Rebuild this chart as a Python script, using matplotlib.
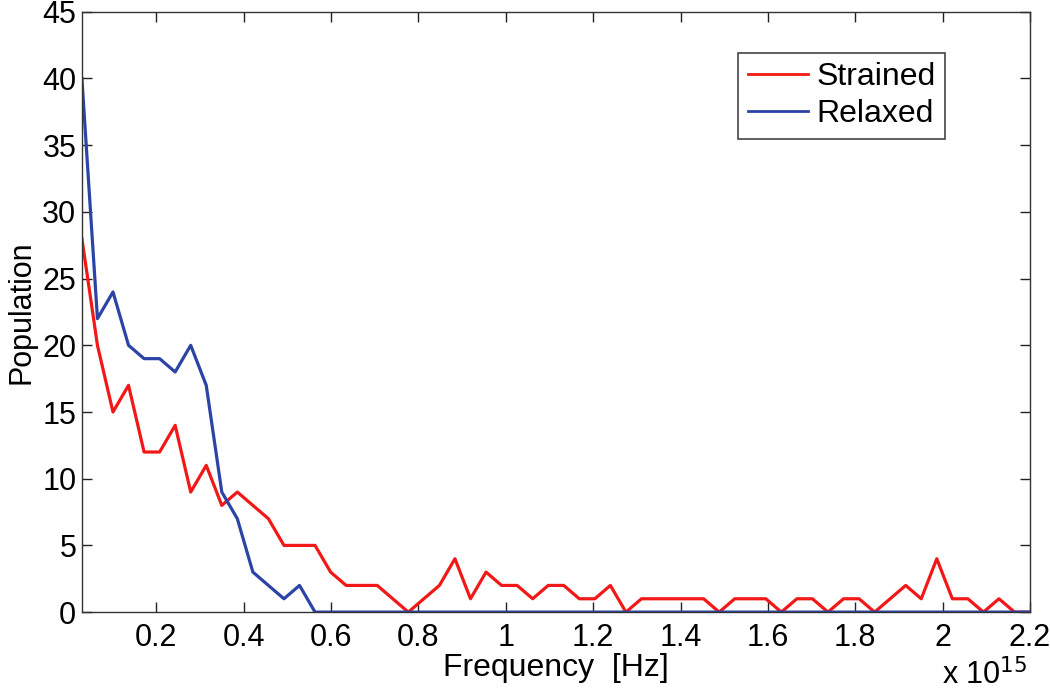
import numpy as np
import matplotlib
matplotlib.use("Agg")
import matplotlib.pyplot as plt

# histogram values (62 bins, x in units of 1e15 Hz)
n_bins = 62
freq_min, freq_max = 0.03, 2.2
strained = [28, 20, 15, 17, 12, 12, 14, 9, 11, 8, 9, 8, 7, 5, 5, 5, 3, 2, 2, 2,
            1, 0, 1, 2, 4, 1, 3, 2, 2, 1, 2, 2, 1, 1, 2, 0, 1, 1, 1, 1,
            1, 0, 1, 1, 1, 0, 1, 1, 0, 1, 1, 0, 1, 2, 1, 4, 1, 1, 0, 1,
            0, 0]
relaxed = [40, 22, 24, 20, 19, 19, 18, 20, 17, 9, 7, 3, 2, 1, 2, 0] + [0] * 46
x_ticks = [0.2, 0.4, 0.6, 0.8, 1.0, 1.2, 1.4, 1.6, 1.8, 2.0, 2.2]
x_ticklabels = ["0.2", "0.4", "0.6", "0.8", "1", "1.2", "1.4", "1.6", "1.8", "2", "2.2"]
y_ticks = [0, 5, 10, 15, 20, 25, 30, 35, 40, 45]

freq = np.linspace(freq_min, freq_max, n_bins)

plt.rcParams["font.family"] = ["Liberation Sans", "DejaVu Sans"]

fig = plt.figure(figsize=(10.5, 6.94), dpi=100)
ax = fig.add_axes([0.078, 0.118, 0.903, 0.865])

ax.plot(freq, strained, color="#f21818", lw=2.3, label="Strained")
ax.plot(freq, relaxed, color="#2b44a6", lw=2.3, label="Relaxed")

ax.set_xlim(freq_min, freq_max)
ax.set_ylim(0, 45)
ax.set_xticks(x_ticks)
ax.set_xticklabels(x_ticklabels)
ax.set_yticks(y_ticks)
ax.tick_params(direction="in", length=7, width=1, top=True, right=True,
               labelsize=22, colors="#222222", labelcolor="black")
ax.tick_params(axis="x", pad=8)
ax.tick_params(axis="y", pad=4)
for s in ax.spines.values():
    s.set_color("#333333")
    s.set_linewidth(1)

ax.set_xlabel("Frequency  [Hz]", fontsize=23, labelpad=0)
ax.set_ylabel("Population", fontsize=22, labelpad=4)

fig.text(0.897, 0.004, r"x 10$^{15}$", fontsize=22, ha="left", va="bottom")

leg = ax.legend(loc="upper left", bbox_to_anchor=(0.692, 0.932), fontsize=23,
                handlelength=1.9, handletextpad=0.25, borderpad=0.3,
                borderaxespad=0, labelspacing=0.22, fancybox=False, framealpha=1)
leg.get_frame().set_edgecolor("#444444")
leg.get_frame().set_linewidth(1.2)
for line in leg.get_lines():
    line.set_linewidth(2)

fig.savefig("out.png", dpi=100)
